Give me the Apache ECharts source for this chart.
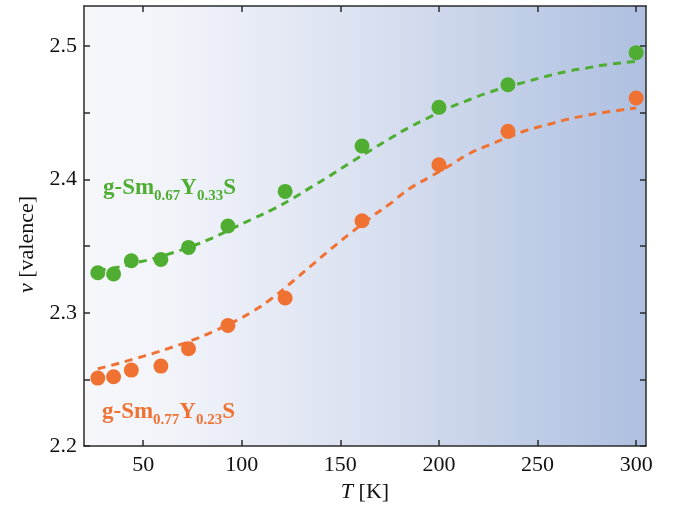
<!DOCTYPE html>
<html>
<head>
<meta charset="utf-8">
<script src="https://cdn.jsdelivr.net/npm/echarts@6/dist/echarts.min.js"></script>
<style>
  html, body { margin: 0; padding: 0; background: #fff; }
  #main { width: 673px; height: 508px; }
</style>
</head>
<body>
<div id="main"></div>
<script>
// measured points, T in K
const greenT = [27, 35, 44, 59, 73, 93, 122, 161, 200, 235, 300];
const greenV = [2.330, 2.329, 2.339, 2.340, 2.349, 2.365, 2.391, 2.425, 2.454, 2.471, 2.495];
const orangeT = [27, 35, 44, 59, 73, 93, 122, 161, 200, 235, 300];
const orangeV = [2.251, 2.252, 2.257, 2.260, 2.273, 2.2905, 2.311, 2.369, 2.411, 2.436, 2.461];

// dashed fit curves
const fitT = [27, 35, 45, 55, 65, 75, 85, 95, 105, 115, 125, 135, 145, 155, 165, 175, 185, 195, 205, 215, 225, 235, 245, 255, 265, 275, 285, 300];
const greenFit = [2.332, 2.3335, 2.337, 2.3405, 2.345, 2.350, 2.356, 2.363, 2.370, 2.377, 2.385, 2.394, 2.403, 2.4125, 2.4215, 2.4305, 2.439, 2.4465, 2.4535, 2.4595, 2.465, 2.4695, 2.4735, 2.4775, 2.481, 2.4835, 2.486, 2.4885];
const orangeFit = [2.258, 2.261, 2.2652, 2.2695, 2.2743, 2.2795, 2.2855, 2.2925, 2.3005, 2.3105, 2.3225, 2.335, 2.3475, 2.3595, 2.371, 2.3815, 2.393, 2.4015, 2.410, 2.419, 2.4255, 2.4315, 2.437, 2.441, 2.445, 2.448, 2.4505, 2.4535];

// tick labels
const xTicks = [50, 100, 150, 200, 250, 300];
const yLabels = [2.2, 2.3, 2.4, 2.5];
const yTicks = [2.2, 2.25, 2.3, 2.35, 2.4, 2.45, 2.5];

const GREEN = '#4fae32';
const ORANGE = '#f07233';
const SERIF = 'Liberation Serif';

const zip = (a, b) => a.map((v, i) => [v, b[i]]);

const axisLine = { show: true, lineStyle: { color: '#2b2b2b', width: 1.5 } };
const tickStyle = { lineStyle: { color: '#2b2b2b', width: 1.5 } };

let myChart = echarts.init(document.getElementById('main'));
myChart.setOption({
    backgroundColor: '#fff',
    animation: false,
    grid: {
        left: 84, right: 27, top: 6, bottom: 58,
        show: true,
        borderWidth: 0,
        backgroundColor: {
            type: 'linear', x: 0, y: 0, x2: 1, y2: 0,
            colorStops: [
                { offset: 0, color: '#f5f7fb' },
                { offset: 0.15, color: '#f2f4fa' },
                { offset: 0.5, color: '#dae1f0' },
                { offset: 1, color: '#aebfe0' }
            ]
        }
    },
    xAxis: [{
        type: 'value', min: 20, max: 305, position: 'bottom',
        axisLine: axisLine,
        axisTick: Object.assign({ show: true, inside: true, length: 6, customValues: xTicks }, tickStyle),
        axisLabel: {
            customValues: xTicks, margin: 8,
            fontFamily: SERIF, fontSize: 22, color: '#111'
        },
        splitLine: { show: false },
        name: '{i|T} [K]',
        nameLocation: 'middle',
        nameGap: 30,
        nameTextStyle: {
            fontFamily: SERIF, fontSize: 22, color: '#111',
            rich: { i: { fontFamily: SERIF, fontSize: 22, fontStyle: 'italic', color: '#111' } }
        }
    }, {
        type: 'value', min: 20, max: 305, position: 'top',
        axisLine: axisLine,
        axisTick: Object.assign({ show: true, inside: true, length: 6, customValues: xTicks }, tickStyle),
        axisLabel: { show: false },
        splitLine: { show: false }
    }],
    yAxis: [{
        type: 'value', min: 2.2, max: 2.53, position: 'left',
        axisLine: axisLine,
        axisTick: Object.assign({ show: true, inside: true, length: 6, customValues: yTicks }, tickStyle),
        axisLabel: {
            customValues: yLabels, margin: 7,
            formatter: v => v.toFixed(1),
            fontFamily: SERIF, fontSize: 22, color: '#111'
        },
        splitLine: { show: false }
    }, {
        type: 'value', min: 2.2, max: 2.53, position: 'right',
        axisLine: axisLine,
        axisTick: Object.assign({ show: true, inside: true, length: 6, customValues: yTicks }, tickStyle),
        axisLabel: { show: false },
        splitLine: { show: false }
    }],
    graphic: [{
        type: 'text',
        left: 16, top: 196,
        rotation: Math.PI / 2,
        origin: [0, 0],
        style: {
            text: '{i|ν} [valence]',
            fontFamily: SERIF, fontSize: 22, fill: '#111',
            align: 'center', verticalAlign: 'middle',
            rich: { i: { fontFamily: SERIF, fontSize: 22, fontStyle: 'italic', fill: '#111' } }
        }
    }, {
        type: 'text',
        left: 103, top: 177,
        z: 10,
        style: {
            text: '{a|g-Sm}{b|0.67}{a|Y}{b|0.33}{a|S}',
            fill: GREEN,
            rich: {
                a: { fontFamily: SERIF, fontSize: 23, fontWeight: 'bold', fill: GREEN, verticalAlign: 'bottom', padding: [0, 0, 4, 0] },
                b: { fontFamily: SERIF, fontSize: 15, fontWeight: 'bold', fill: GREEN, verticalAlign: 'bottom' }
            }
        }
    }, {
        type: 'text',
        left: 102, top: 401,
        z: 10,
        style: {
            text: '{a|g-Sm}{b|0.77}{a|Y}{b|0.23}{a|S}',
            fill: ORANGE,
            rich: {
                a: { fontFamily: SERIF, fontSize: 23, fontWeight: 'bold', fill: ORANGE, verticalAlign: 'bottom', padding: [0, 0, 4, 0] },
                b: { fontFamily: SERIF, fontSize: 15, fontWeight: 'bold', fill: ORANGE, verticalAlign: 'bottom' }
            }
        }
    }],
    series: [{
        name: 'green', type: 'scatter', symbolSize: 15,
        itemStyle: { color: GREEN, opacity: 1 },
        data: zip(greenT, greenV)
    }, {
        name: 'orange', type: 'scatter', symbolSize: 15,
        itemStyle: { color: ORANGE, opacity: 1 },
        data: zip(orangeT, orangeV)
    }, {
        name: 'greenFit', type: 'line', smooth: true, showSymbol: false, z: 3,
        lineStyle: { color: GREEN, width: 3, type: [8, 6] },
        data: zip(fitT, greenFit)
    }, {
        name: 'orangeFit', type: 'line', smooth: true, showSymbol: false, z: 3,
        lineStyle: { color: ORANGE, width: 3, type: [8, 6] },
        data: zip(fitT, orangeFit)
    }]
});
</script>
</body>
</html>
